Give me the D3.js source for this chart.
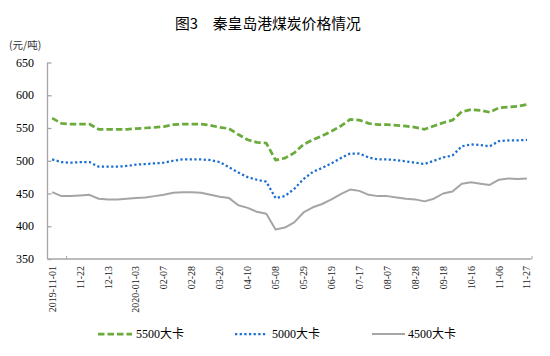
<!DOCTYPE html>
<html><head><meta charset="utf-8">
<script src="https://cdn.jsdelivr.net/npm/d3@7"></script>
<style>body{margin:0;background:#fff}svg{display:block}</style>
</head><body>
<script>
const dates = ["2019-11-01","11-08","11-15","11-22","11-29","12-06","12-13","12-20","12-27","2020-01-03",
"01-10","01-17","02-07","02-14","02-21","02-28","03-06","03-13","03-20","03-27","04-03","04-10",
"04-17","04-24","05-08","05-15","05-22","05-29","06-05","06-12","06-19","07-03","07-10","07-17",
"07-24","07-31","08-07","08-14","08-21","08-28","09-04","09-11","09-18","09-25","10-09","10-16",
"10-23","10-30","11-06","11-13","11-20","11-27"];
const kcal5500 = [565,557,556,556,556,548,548,548,548,549,550,551,552,555,556,556,556,554,551,549,540,532,
528,527,501,504,512,525,532,538,545,553,563,562,557,555,555,554,553,551,548,553,558,562,575,578,577,574,581,582,583,586];
const kcal5000 = [502,498,497,498,498,491,491,491,492,494,495,496,497,500,502,502,502,501,498,490,482,475,
471,468,443,446,457,472,483,489,496,504,511,511,505,502,502,501,499,497,495,500,505,508,522,525,524,522,530,531,531,532];
const kcal4500 = [452,446,446,447,448,442,441,441,442,443,444,446,448,451,452,452,451,448,445,443,432,428,
422,419,395,398,406,421,429,434,441,449,456,454,448,446,446,444,442,441,438,442,450,453,465,467,465,463,471,473,472,473];
const yTicks = [350,400,450,500,550,600,650];
const seriesNames = ["5500大卡","5000大卡","4500大卡"];

const W = 550, H = 356;
const svg = d3.select("body").append("svg").attr("width", W).attr("height", H);
const serif = "'Liberation Serif','Times New Roman','Noto Sans CJK SC',serif";
const cjk = "'Noto Sans CJK SC','Noto Sans',sans-serif";

const x = d3.scaleBand().domain(d3.range(dates.length)).range([47.5, 531.6]).padding(0);
const xc = i => x(i) + x.bandwidth() / 2;
const y = d3.scaleLinear().domain([350, 650]).range([259, 62.5]);

// title
svg.append("text").attr("x", 175).attr("y", 29).attr("font-family", cjk).attr("font-size", 14.8)
  .attr("fill", "#000").text("图3　秦皇岛港煤炭价格情况");
svg.append("text").attr("x", 9).attr("y", 49).attr("font-family", cjk).attr("font-size", 10.5)
  .attr("fill", "#333").text("(元/吨)");

const axisColor = "#a6a6a6";
// y axis
const yAxis = svg.append("g").attr("transform", "translate(47.5,0)")
  .call(d3.axisRight(y).tickValues(yTicks).tickSize(4).tickFormat(""));
yAxis.select(".domain").attr("stroke", axisColor).attr("stroke-width", 1.3).attr("d", `M0,${y(650)}V${y(350)}`);
yAxis.selectAll(".tick line").attr("stroke", axisColor).attr("stroke-width", 1.3);
svg.append("g").selectAll("text").data(yTicks).join("text")
  .attr("x", 34).attr("y", d => y(d)).attr("dy", "0.35em").attr("text-anchor", "end")
  .attr("font-family", serif).attr("font-size", 12).attr("fill", "#000").text(d => d);

// x axis
const xAxis = svg.append("g").attr("transform", `translate(0,${y(350)})`)
  .call(d3.axisTop(d3.scaleLinear().domain([0, dates.length]).range([47.5, 531.6]))
    .tickValues([2, dates.length]).tickSize(3).tickFormat(""));
xAxis.select(".domain").attr("stroke", axisColor).attr("stroke-width", 1.3).attr("d", `M47.5,0H531.6`);
xAxis.selectAll(".tick line").attr("stroke", axisColor).attr("stroke-width", 1);
svg.append("g").selectAll("text").data(d3.range(0, dates.length, 3)).join("text")
  .attr("transform", i => `translate(${xc(i)},266) rotate(-90)`)
  .attr("text-anchor", "end").attr("dy", "0.35em")
  .attr("font-family", serif).attr("font-size", 10).attr("fill", "#222").text(i => dates[i]);

// lines
const styles = [
  {data: kcal5500, color: "#6aab3c", w: 2.75, dash: "6.5,3"},
  {data: kcal5000, color: "#1a6fd1", w: 2.25, dash: "2.25,2.4"},
  {data: kcal4500, color: "#a5a5a5", w: 2, dash: null}
];
const line = d3.line().x((d, i) => xc(i)).y(d => y(d));
styles.forEach(s => {
  svg.append("path").datum(s.data).attr("d", line).attr("fill", "none")
    .attr("stroke", s.color).attr("stroke-width", s.w)
    .attr("stroke-dasharray", s.dash).attr("stroke-linejoin", "round");
});

// legend
const legX = [[98, 132, 136], [235, 267, 272], [372, 405, 408]];
const ly = 334;
styles.forEach((s, k) => {
  svg.append("line").attr("x1", legX[k][0]).attr("x2", legX[k][1]).attr("y1", ly).attr("y2", ly)
    .attr("stroke", s.color).attr("stroke-width", s.w).attr("stroke-dasharray", s.dash);
  svg.append("text").attr("x", legX[k][2]).attr("y", ly).attr("dy", "0.35em")
    .attr("font-family", serif).attr("font-size", 12).attr("fill", "#000").text(seriesNames[k]);
});
</script>
</body></html>
